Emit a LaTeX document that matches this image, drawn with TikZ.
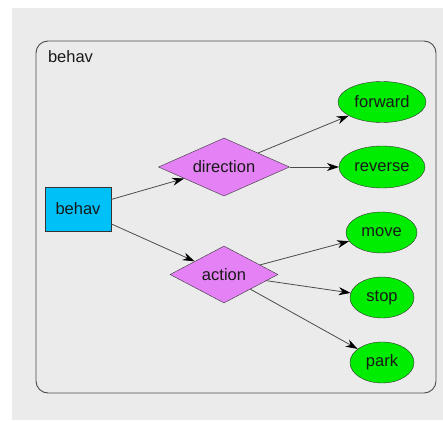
\documentclass[tikz,border=0pt]{standalone}
\usepackage{fontspec}
\setmainfont{Liberation Sans}
\usetikzlibrary{shapes.geometric,arrows.meta}
\definecolor{bgc}{HTML}{EBEBEB}
\definecolor{boxc}{HTML}{00C0F8}
\definecolor{diac}{HTML}{E482F5}
\definecolor{elc}{HTML}{00EC00}
\tikzset{
  lbl/.style={font=\fontsize{16.5}{19}\selectfont, text=black!90},
  boxnode/.style={lbl, draw=black!80, fill=boxc, rectangle, minimum width=66pt, minimum height=44pt, inner sep=0pt},
  dianode/.style={lbl, draw=black!80, fill=diac, diamond, inner sep=0pt},
  elnode/.style={lbl, draw=black!80, fill=elc, ellipse, inner sep=0pt},
  conn/.style={draw=black!70, line width=0.8pt, -{Stealth[length=12pt,width=8pt,color=black]}}
}
\begin{document}
\begin{tikzpicture}[x=1pt,y=-1pt]
\useasboundingbox (0,0) rectangle (443,420);
\fill[bgc] (12,8) rectangle (443,420);
\draw[black!70, line width=0.9pt, rounded corners=12pt] (36,41) rectangle (436,393);
\node[lbl, anchor=west] (clabel) at (44.5,57) {behav};
\node[boxnode] (behav) at (78,209) {behav};
\node[dianode, minimum width=131pt, minimum height=58pt] (direction) at (224,167) {};
\node[lbl] (directiont) at (224,167) {direction};
\node[dianode, minimum width=108pt, minimum height=57pt] (action) at (224,274.5) {};
\node[lbl] (actiont) at (224,274.5) {action};
\node[elnode, minimum width=88pt, minimum height=41pt] (forward) at (382,102) {forward};
\node[elnode, minimum width=86pt, minimum height=42pt] (reverse) at (382,167) {reverse};
\node[elnode, minimum width=71pt, minimum height=41pt] (move) at (381.5,232.5) {move};
\node[elnode, minimum width=64pt, minimum height=41pt] (stop) at (382,297.5) {stop};
\node[elnode, minimum width=64pt, minimum height=41pt] (park) at (382,362.5) {park};
\draw[conn] (behav) -- (direction);
\draw[conn] (behav) -- (action);
\draw[conn] (direction) -- (forward);
\draw[conn] (direction) -- (reverse);
\draw[conn] (action) -- (move);
\draw[conn] (action) -- (stop);
\draw[conn] (action) -- (park);
\end{tikzpicture}
\end{document}
